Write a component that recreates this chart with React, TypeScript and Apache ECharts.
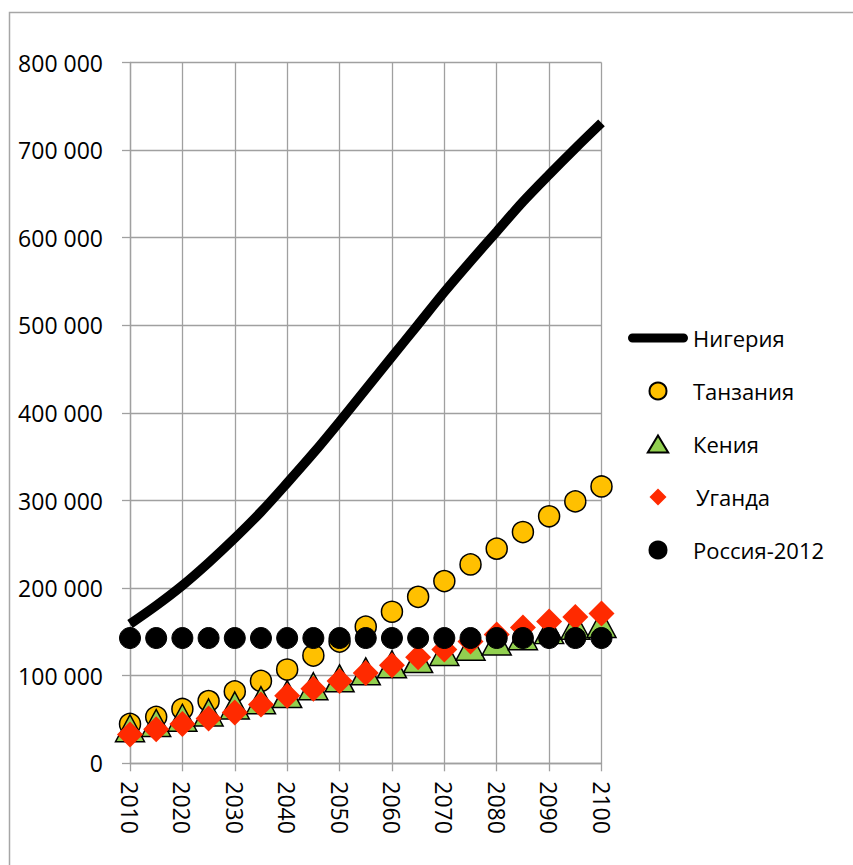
import React, { useEffect, useRef } from "react";
import * as echarts from "echarts";

// Population projections, thousands of people (medium variant)
const years = [2010, 2015, 2020, 2025, 2030, 2035, 2040, 2045, 2050, 2055, 2060, 2065, 2070, 2075, 2080, 2085, 2090, 2095, 2100];
const nigeria = [159000, 180000, 203000, 229000, 257000, 287000, 320000, 354000, 390000, 427000, 464000, 501000, 538000, 573000, 607000, 641000, 672000, 702000, 731000];
const tanzania = [45000, 53000, 62000, 71000, 82000, 94000, 107000, 123000, 139000, 156000, 173000, 190000, 208000, 227000, 245000, 264000, 282000, 299000, 316000];
const kenya = [40000, 46000, 52000, 58000, 66000, 72000, 79000, 88000, 97000, 105000, 113000, 119000, 127000, 133000, 139000, 145000, 152000, 157000, 159000];
const uganda = [33000, 39000, 45000, 51000, 58000, 67000, 77000, 85000, 94000, 103000, 112000, 121000, 130000, 139000, 147000, 155000, 162000, 167000, 171000];
const russia2012 = [143000, 143000, 143000, 143000, 143000, 143000, 143000, 143000, 143000, 143000, 143000, 143000, 143000, 143000, 143000, 143000, 143000, 143000, 143000];

const seriesNames = ["Нигерия", "Танзания", "Кения", "Уганда", "Россия-2012"];

const FONT = "'Open Sans', 'Noto Sans', sans-serif";
const GRID_COLOR = "#a0a0a0";

const pairs = (vals: number[]) => years.map((y, i) => [y, vals[i]]);

const spaced = (v: number) => String(v).replace(/\B(?=(\d{3})+(?!\d))/g, " ");

export default function App() {
  const ref = useRef<HTMLDivElement>(null);

  useEffect(() => {
    if (!ref.current) return;
    const chart = echarts.init(ref.current, null, { renderer: "svg" });
    chart.setOption({
      animation: false,
      backgroundColor: "#ffffff",
      textStyle: { fontFamily: FONT },
      grid: {
        left: 130,
        right: 251.5,
        top: 62.5,
        bottom: 101.7,
        outerBoundsMode: "none",
      },
      xAxis: {
        type: "value",
        min: 2010,
        max: 2100,
        interval: 10,
        axisLine: { show: true, lineStyle: { color: GRID_COLOR, width: 1.3 } },
        axisTick: { show: true, length: 8, lineStyle: { color: GRID_COLOR, width: 1.3 } },
        splitLine: { show: true, lineStyle: { color: GRID_COLOR, width: 1.3 } },
        axisLabel: {
          rotate: -90,
          margin: 18,
          color: "#000",
          fontSize: 23,
          fontFamily: FONT,
          formatter: (v: number) => String(v),
        },
      },
      yAxis: {
        type: "value",
        min: 0,
        max: 800000,
        interval: 100000,
        axisLine: { show: true, lineStyle: { color: GRID_COLOR, width: 1.3 } },
        axisTick: { show: true, length: 8, lineStyle: { color: GRID_COLOR, width: 1.3 } },
        splitLine: { show: true, lineStyle: { color: GRID_COLOR, width: 1.3 } },
        axisLabel: {
          margin: 27,
          color: "#000",
          fontSize: 23,
          fontFamily: FONT,
          formatter: (v: number) => spaced(v),
        },
      },
      legend: {
        orient: "vertical",
        left: 628,
        top: 327,
        padding: 0,
        itemWidth: 60,
        itemHeight: 17,
        itemGap: 31,
        selectedMode: false,
        symbolKeepAspect: true,
        textStyle: { fontSize: 22, color: "#000", fontFamily: FONT, lineHeight: 22 },
        data: [
          {
            name: seriesNames[0],
            icon: "path://M4.5,0H55.5A4.5,4.5,0,0,1,55.5,9H4.5A4.5,4.5,0,0,1,4.5,0Z",
            itemStyle: { color: "#000", borderWidth: 0 },
            textStyle: { padding: [0, 0, 0, 0] },
          },
          { name: seriesNames[1], icon: "circle" },
          { name: seriesNames[2], icon: "path://M9,0L18,15L0,15Z" },
          { name: seriesNames[3], icon: "path://M9,0L18,9L9,18L0,9Z", textStyle: { padding: [0, 0, 0, 3] } },
          { name: seriesNames[4], icon: "circle" },
        ],
      },
      graphic: [
        {
          type: "rect",
          silent: true,
          shape: { x: 9.5, y: 12.5, width: 1200, height: 1200 },
          style: { fill: "none", stroke: "#a6a6a6", lineWidth: 1.5 },
        },
      ],
      series: [
        {
          name: seriesNames[0],
          type: "line",
          data: pairs(nigeria),
          smooth: 0.3,
          symbol: "none",
          color: "#000",
          lineStyle: { color: "#000", width: 9.5 },
          z: 2,
        },
        {
          name: seriesNames[1],
          type: "scatter",
          data: pairs(tanzania),
          symbol: "circle",
          symbolSize: 21,
          itemStyle: { color: "#FFC000", borderColor: "#000", borderWidth: 1.5, opacity: 1 },
          z: 3,
        },
        {
          name: seriesNames[2],
          type: "scatter",
          data: pairs(kenya),
          symbol: "triangle",
          symbolSize: [29, 27],
          itemStyle: { color: "#92D050", borderColor: "#000", borderWidth: 1.5, opacity: 1 },
          z: 4,
        },
        {
          name: seriesNames[3],
          type: "scatter",
          data: pairs(uganda),
          symbol: "diamond",
          symbolSize: 26,
          itemStyle: { color: "#FF2A00", borderWidth: 0, opacity: 1 },
          z: 5,
        },
        {
          name: seriesNames[4],
          type: "scatter",
          data: pairs(russia2012),
          symbol: "circle",
          symbolSize: 21,
          itemStyle: { color: "#000", borderColor: "#000", borderWidth: 1, opacity: 1 },
          z: 6,
        },
      ],
    });
    return () => chart.dispose();
  }, []);

  return (
    <div
      ref={ref}
      style={{ position: "absolute", left: 0, top: 0, width: 853, height: 865, background: "#fff" }}
    />
  );
}
